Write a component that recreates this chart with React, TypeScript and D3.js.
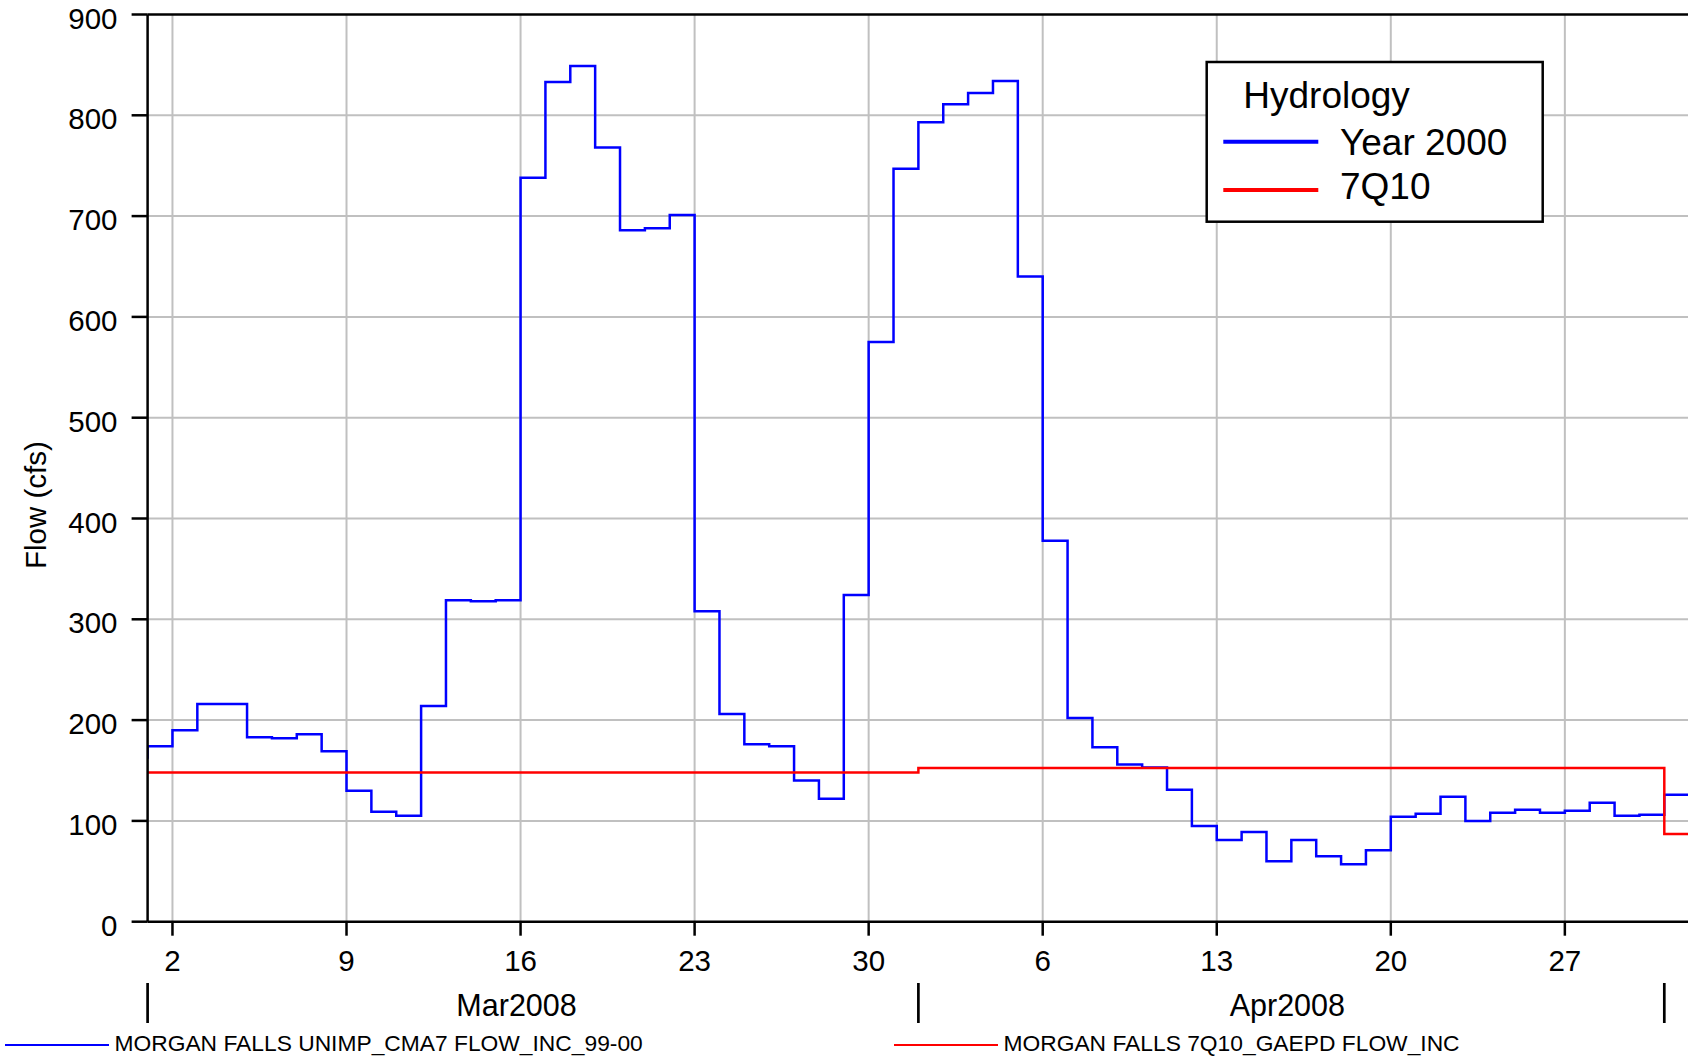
import React from "react";
import * as d3 from "d3";

// ---- data ----
// daily values of the unimpaired incremental flow (step after), starting the day before the axis
const flowStart = "2008-02-29";
const flowValues = [
  163, // Feb 29
  174, 190, 216, 216, 183, 182, 186, 169, 130, 109, 105, 214, 319, 318, 319, // Mar 1-15
  738, 833, 849, 768, 686, 688, 701, 308, 206, 176, 174, 140, 122, 324, 575, 747, // Mar 16-31
  793, 811, 822, 834, 640, 378, 202, 173, 156, 153, 131, 95, 81, 89, 60, // Apr 1-15
  81, 65, 57, 71, 104, 107, 124, 100, 108, 111, 108, 110, 118, 105, 106, // Apr 16-30
  126, 126, // May 1-2
];
// monthly 7Q10 values
const q710Dates = ["2008-03-01", "2008-04-01", "2008-05-01"];
const q710Values = [148, 152.5, 87];

const yTicks = [0, 100, 200, 300, 400, 500, 600, 700, 800, 900];
const xTickDates = ["2008-03-02", "2008-03-09", "2008-03-16", "2008-03-23", "2008-03-30", "2008-04-06", "2008-04-13", "2008-04-20", "2008-04-27"];
const monthStarts = ["2008-03-01", "2008-04-01", "2008-05-01"];
const monthLabels = [
  { label: "Mar2008", mid: "2008-03-16" },
  { label: "Apr2008", mid: "2008-04-16" },
];
const legendTitle = "Hydrology";
const legendItems = [
  { name: "Year 2000", color: "#0000ff" },
  { name: "7Q10", color: "#ff0000" },
];
const bottomLegend = [
  { name: "MORGAN FALLS UNIMP_CMA7 FLOW_INC_99-00", color: "#0000ff" },
  { name: "MORGAN FALLS 7Q10_GAEPD FLOW_INC", color: "#ff0000" },
];

const W = 1688;
const H = 1057;
const FONT = "'Liberation Sans', Arial, Helvetica, sans-serif";

const parse = (s: string) => new Date(s + "T00:00:00Z");
const addDays = (d: Date, n: number) => new Date(d.getTime() + n * 86400000);

export default function App() {
  const left = 147.6;
  const top = 14.5;
  const bottom = 921.7;
  const x0 = parse("2008-03-01");
  const x1 = parse("2008-05-02");
  const x = d3.scaleUtc().domain([x0, x1]).range([left, left + 62 * 24.864]);
  const y = d3.scaleLinear().domain([0, 900]).range([bottom, top]);
  const right = W + 5;

  const startD = parse(flowStart);
  const flowPts: [Date, number][] = flowValues.map((v, i) => [addDays(startD, i), v]);
  flowPts.push([addDays(startD, flowValues.length), flowValues[flowValues.length - 1]]);

  const qPts: [Date, number][] = q710Dates.map((d, i) => [parse(d), q710Values[i]]);
  qPts.push([addDays(x1, 1), q710Values[q710Values.length - 1]]);

  const line = d3
    .line<[Date, number]>()
    .x((d) => x(d[0]))
    .y((d) => y(d[1]))
    .curve(d3.curveStepAfter);

  const grid = "#c0c0c0";

  return (
    <svg
      width={W}
      height={H}
      style={{ position: "absolute", left: 0, top: 0, background: "#fff" }}
      fontFamily={FONT}
    >
      <defs>
        <clipPath id="plotclip">
          <rect x={left} y={top} width={right - left} height={bottom - top} />
        </clipPath>
      </defs>
      <rect x={0} y={0} width={W} height={H} fill="#fff" />
      {/* grid */}
      {yTicks
        .filter((t) => t > 0 && t < 900)
        .map((t) => (
          <line key={"hg" + t} x1={left} x2={right} y1={y(t)} y2={y(t)} stroke={grid} strokeWidth={2} />
        ))}
      {xTickDates.map((d) => (
        <line key={"vg" + d} x1={x(parse(d))} x2={x(parse(d))} y1={top} y2={bottom} stroke={grid} strokeWidth={2} />
      ))}
      {/* series */}
      <g clipPath="url(#plotclip)">
        <path d={line(flowPts) || ""} fill="none" stroke="#0000ff" strokeWidth={2.5} />
        <path d={line(qPts) || ""} fill="none" stroke="#ff0000" strokeWidth={2.5} />
      </g>
      {/* frame */}
      <line x1={left} x2={right} y1={top} y2={top} stroke="#000" strokeWidth={2.5} />
      <line x1={left} x2={right} y1={bottom} y2={bottom} stroke="#000" strokeWidth={2.5} />
      <line x1={left} x2={left} y1={top} y2={bottom} stroke="#000" strokeWidth={2.5} />
      {/* y ticks */}
      {yTicks.map((t) => (
        <g key={"yt" + t}>
          <line x1={left - 16} x2={left} y1={y(t)} y2={y(t)} stroke="#000" strokeWidth={2.5} />
          <text x={117.5} y={y(t) + 14} textAnchor="end" fontSize={29.5} fill="#000">
            {t}
          </text>
        </g>
      ))}
      {/* x ticks */}
      {xTickDates.map((d) => {
        const dt = parse(d);
        return (
          <g key={"xt" + d}>
            <line x1={x(dt)} x2={x(dt)} y1={bottom} y2={bottom + 14} stroke="#000" strokeWidth={2.5} />
            <text x={x(dt)} y={971} textAnchor="middle" fontSize={29.5} fill="#000">
              {dt.getUTCDate()}
            </text>
          </g>
        );
      })}
      {/* month separators */}
      {monthStarts.map((d) => (
        <line key={"ms" + d} x1={x(parse(d))} x2={x(parse(d))} y1={983} y2={1023} stroke="#000" strokeWidth={2.7} />
      ))}
      {monthLabels.map((m) => (
        <text key={m.label} x={x(parse(m.mid)) - 4} y={1015.5} textAnchor="middle" fontSize={30.5} fill="#000">
          {m.label}
        </text>
      ))}
      {/* y title */}
      <text
        transform={`translate(45.7, ${(top + bottom) / 2 + 37}) rotate(-90)`}
        textAnchor="middle"
        fontSize={29.5}
        fill="#000"
      >
        Flow (cfs)
      </text>
      {/* legend box */}
      <rect x={1206.7} y={62} width={336} height={159.7} fill="#fff" stroke="#000" strokeWidth={2.5} />
      <text x={1243.3} y={108.3} fontSize={37} fill="#000">
        {legendTitle}
      </text>
      {legendItems.map((it, i) => (
        <g key={it.name}>
          <line x1={1223.3} x2={1318.3} y1={141.7 + i * 48.3} y2={141.7 + i * 48.3} stroke={it.color} strokeWidth={4} />
          <text x={1340} y={155 + i * 44.3} fontSize={37} fill="#000">
            {it.name}
          </text>
        </g>
      ))}
      {/* bottom legend */}
      {bottomLegend.map((it, i) => {
        const lx = i === 0 ? 5 : 894;
        return (
          <g key={it.name}>
            <line x1={lx} x2={lx + 104} y1={1045} y2={1045} stroke={it.color} strokeWidth={2} />
            <text x={lx + 109.5} y={1050.7} fontSize={22.8} fill="#000">
              {it.name}
            </text>
          </g>
        );
      })}
    </svg>
  );
}
